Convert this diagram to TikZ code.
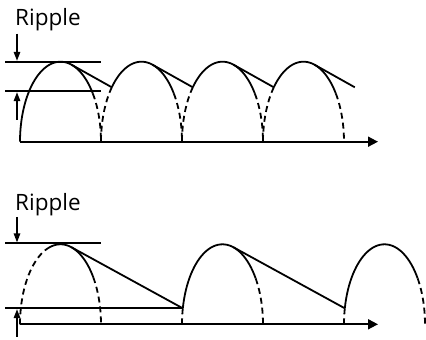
\documentclass[tikz,border=0pt]{standalone}
\usepackage{fontspec}
\setmainfont{Open Sans}
\usetikzlibrary{arrows.meta}

\begin{document}
\begin{tikzpicture}[x=1pt, y=1pt,
    arch/.style={line width=1.8pt},
    archdash/.style={line width=1.8pt, dash pattern=on 6pt off 4pt},
    ripplearrow/.style={line width=1.4pt, -{Triangle[length=9pt, width=6.5pt]}},
    axisarrow/.style={line width=1.8pt, -{Triangle[length=10pt, width=10pt]}},
    rippletext/.style={anchor=base west, inner sep=0pt, font=\fontsize{22.5}{26}\selectfont}]
    \useasboundingbox (0, 0) rectangle (426, 340);

    % full-wave rectified, small ripple
    \begin{scope}[shift={(20, 198.3)}]
        \draw[axisarrow] (0, 0) -- (358, 0);
        \draw[arch, domain=180:37, samples=40] plot ({40.5+40.5*cos(\x)}, {80*sin(\x)});
        \draw[archdash, domain=37:0, samples=12] plot ({40.5+40.5*cos(\x)}, {80*sin(\x)});
        \foreach \cx in {121.5, 202.5, 283.5} {
            \draw[archdash, domain=180:137.15, samples=12] plot ({\cx+40.5*cos(\x)}, {80*sin(\x)});
            \draw[arch, domain=137.15:37, samples=40] plot ({\cx+40.5*cos(\x)}, {80*sin(\x)});
            \draw[archdash, domain=37:0, samples=12] plot ({\cx+40.5*cos(\x)}, {80*sin(\x)});
        }
        % discharge between peaks
        \foreach \cx in {40.5, 121.5, 202.5, 283.5} {
            \draw[arch] ({\cx+40.5*cos(74.2)}, {80*sin(74.2)}) -- ({\cx+81-29.7}, 54.4);
        }
        % ripple levels
        \draw[arch] (-15, 80) -- (81, 80);
        \draw[arch] (-15, 50.4) -- (81, 50.4);
        \coordinate (hi1) at (-3, 80.9);
        \coordinate (lo1) at (-3, 49.5);
        \draw[ripplearrow] (-3, 108) -- (hi1);
        \draw[ripplearrow] (-3, 21.7) -- (lo1);
        \node[rippletext] (ripple1) at (-5, 115.7) {Ripple};
    \end{scope}

    % half-wave rectified, large ripple
    \begin{scope}[shift={(20, 15.7)}]
        \draw[axisarrow] (0, 0) -- (358, 0);
        \draw[archdash, domain=180:108, samples=20] plot ({40.5+40.5*cos(\x)}, {80*sin(\x)});
        \draw[arch, domain=108:36, samples=40] plot ({40.5+40.5*cos(\x)}, {80*sin(\x)});
        \draw[archdash, domain=36:0, samples=12] plot ({40.5+40.5*cos(\x)}, {80*sin(\x)});
        \foreach \cx in {202.5, 364.5} {
            \draw[archdash, domain=180:168.46, samples=6] plot ({\cx+40.5*cos(\x)}, {80*sin(\x)});
            \draw[arch, domain=168.46:35, samples=40] plot ({\cx+40.5*cos(\x)}, {80*sin(\x)});
            \draw[archdash, domain=35:0, samples=12] plot ({\cx+40.5*cos(\x)}, {80*sin(\x)});
        }
        % discharge between peaks
        \foreach \cx in {40.5, 202.5} {
            \draw[arch] ({\cx+40.5*cos(74.5)}, {80*sin(74.5)}) -- ({\cx+162-39.7}, 16);
        }
        % ripple levels
        \draw[arch] (-15, 81) -- (81, 81);
        \draw[arch] (-15, 16) -- (162.8, 16);
        \coordinate (hi2) at (-3, 81.9);
        \coordinate (lo2) at (-3, 15.1);
        \draw[ripplearrow] (-3, 107.3) -- (hi2);
        \draw[ripplearrow] (-3, -12.4) -- (lo2);
        \node[rippletext] (ripple2) at (-5, 113.5) {Ripple};
    \end{scope}
\end{tikzpicture}
\end{document}
